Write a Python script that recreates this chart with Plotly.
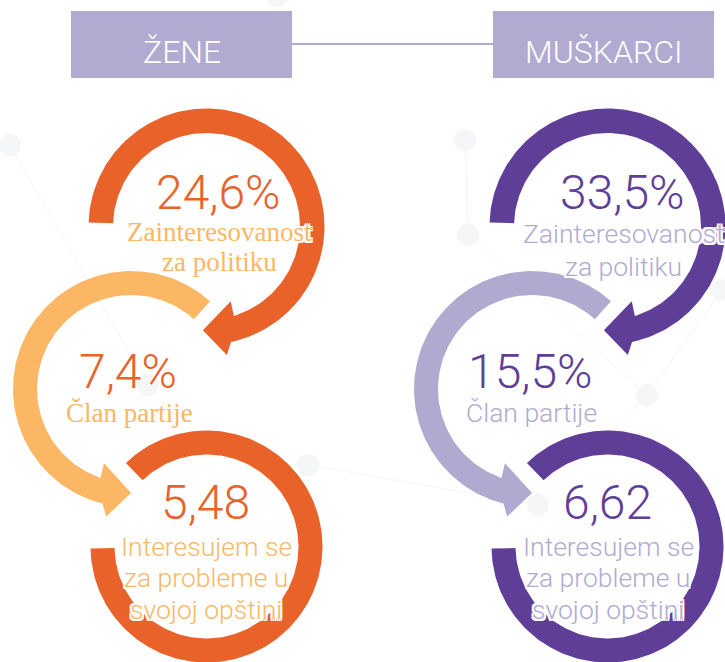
import numpy as np
import plotly.graph_objects as go

# ---------------- data ----------------
groups = ["ŽENE", "MUŠKARCI"]
zene_values = ["24,6%", "7,4%", "5,48"]
muskarci_values = ["33,5%", "15,5%", "6,62"]
indicator_lines = [
    ["Zainteresovanost", "za politiku"],
    ["Član partije"],
    ["Interesujem se", "za probleme u", "svojoj opštini"],
]

# ---------------- styles / layout ----------------
W, H = 725, 662
colors = {
    "ŽENE": {"dark": "#E8622A", "light": "#FBB764"},
    "MUŠKARCI": {"dark": "#5F3E97", "light": "#B0AAD1"},
}
header_color = "#B1ABD1"
SANS = "Roboto"
SERIF = "Liberation Serif"
label_fonts = {
    "ŽENE": [SERIF, SERIF, SANS],
    "MUŠKARCI": [SANS, SANS, SANS],
}
side_dx = {"ŽENE": 0, "MUŠKARCI": 401}
header_x = {"ŽENE": (71, 292), "MUŠKARCI": (493, 714)}

# ring geometry (left column; right column shifted by side_dx)
rings = [
    dict(cx=206.5, cy=226.5, r_in=93.5, r_out=118, a0=182, a1=433, d=1, arrow=True, tone="dark"),
    dict(cx=131, cy=389, r_in=94, r_out=118, a0=312, a1=109, d=-1, arrow=True, tone="light"),
    dict(cx=206.5, cy=546.5, r_in=92, r_out=116, a0=226, a1=539, d=1, arrow=False, tone="dark"),
]

num_x = {"ŽENE": [218, 128, 205], "MUŠKARCI": [622, 530, 607]}
num_y = [192, 371, 502]
label_y = {
    "ŽENE": [[231.5, 261.5], [413], [546, 577.5, 609]],
    "MUŠKARCI": [[233, 266], [412], [546, 577.5, 609]],
}

bg_nodes = [(10, 145), (277, -4), (465, 140), (468, 235), (148, 385),
            (308, 465), (538, 505), (647, 395), (722, 290)]
bg_edges = [(2, 3), (4, 0), (5, 6), (6, 7), (7, 8), (3, 7)]


def arc(cx, cy, r, a_from, a_to):
    n = int(abs(a_to - a_from) / 1.5) + 2
    t = np.radians(np.linspace(a_from, a_to, n))
    return list(cx + r * np.cos(t)), list(cy + r * np.sin(t))


def polar(cx, cy, r, a):
    t = np.radians(a)
    return cx + r * np.cos(t), cy + r * np.sin(t)


def ring_polygon(cx, cy, r_in, r_out, a0, a1, d, arrow):
    if arrow:
        xo, yo = arc(cx, cy, r_out, a0, a1 + d * 5)
        head = [(r_out + 12, a1 + d * 8), ((r_in + r_out) / 2 - 2, a1 + d * 19),
                (r_in - 15, a1 - d * 1)]
        hx, hy = zip(*[polar(cx, cy, r, a) for r, a in head])
        xi, yi = arc(cx, cy, r_in, a1, a0)
        xs = xo + list(hx) + xi
        ys = yo + list(hy) + yi
    else:
        xo, yo = arc(cx, cy, r_out, a0, a1)
        xi, yi = arc(cx, cy, r_in, a1, a0)
        xs, ys = xo + xi, yo + yi
    return xs + [xs[0]], ys + [ys[0]]


fig = go.Figure()
shapes = []
annotations = []

# faint background network
for i, j in bg_edges:
    (x0, y0), (x1, y1) = bg_nodes[i], bg_nodes[j]
    shapes.append(dict(type="line", xref="x", yref="y", x0=x0, y0=y0, x1=x1, y1=y1,
                       line=dict(color="#F3F4F6", width=1), layer="below"))
for x, y in bg_nodes:
    shapes.append(dict(type="circle", xref="x", yref="y", x0=x - 11, x1=x + 11,
                       y0=y - 11, y1=y + 11, fillcolor="#F5F6F8",
                       line=dict(width=0), layer="below"))

# header connector
shapes.append(dict(type="line", xref="x", yref="y", x0=header_x["ŽENE"][1], x1=header_x["MUŠKARCI"][0],
                   y0=44, y1=44, line=dict(color=header_color, width=2)))

halo = ", ".join(f"{dx}px {dy}px 0 #fff" for dx in (-2, 0, 2) for dy in (-2, 0, 2) if dx or dy)

values_by_group = {"ŽENE": zene_values, "MUŠKARCI": muskarci_values}

for g in groups:
    dx = side_dx[g]
    x0, x1 = header_x[g]
    shapes.append(dict(type="rect", xref="x", yref="y", x0=x0, x1=x1, y0=11, y1=78,
                       fillcolor=header_color, line=dict(width=0)))
    annotations.append(dict(x=(x0 + x1) / 2, y=52, xref="x", yref="y", text=g, showarrow=False,
                            xanchor="center", yanchor="middle",
                            font=dict(family=SANS, size=32, color="white", weight=300)))
    for k, rg in enumerate(rings):
        xs, ys = ring_polygon(rg["cx"] + dx, rg["cy"], rg["r_in"], rg["r_out"],
                              rg["a0"], rg["a1"], rg["d"], rg["arrow"])
        fig.add_trace(go.Scatter(x=xs, y=ys, mode="lines", fill="toself",
                                 fillcolor=colors[g][rg["tone"]], line=dict(width=0),
                                 hoverinfo="skip", showlegend=False))
    for k, val in enumerate(values_by_group[g]):
        annotations.append(dict(x=num_x[g][k], y=num_y[k], xref="x", yref="y", text=val,
                                showarrow=False, xanchor="center", yanchor="middle",
                                font=dict(family=SANS, size=48, color=colors[g]["dark"], weight=300)))
        for line_txt, ly in zip(indicator_lines[k], label_y[g][k]):
            fam = label_fonts[g][k]
            annotations.append(dict(x=num_x[g][k] + 1, y=ly, xref="x", yref="y", text=line_txt,
                                    showarrow=False, xanchor="center", yanchor="middle",
                                    font=dict(family=fam, size=27 if fam == SERIF else 26.5,
                                              color=colors[g]["light"],
                                              weight=400 if fam == SERIF else 300,
                                              shadow=halo)))

fig.update_layout(
    width=W, height=H, margin=dict(l=0, r=0, t=0, b=0),
    paper_bgcolor="white", plot_bgcolor="white",
    xaxis=dict(range=[0, W], visible=False, fixedrange=True),
    yaxis=dict(range=[H, 0], visible=False, fixedrange=True),
    shapes=shapes, annotations=annotations, showlegend=False,
)
fig.write_html("out.html", post_script="document.body.style.margin='0';",
               config={"displayModeBar": False})
